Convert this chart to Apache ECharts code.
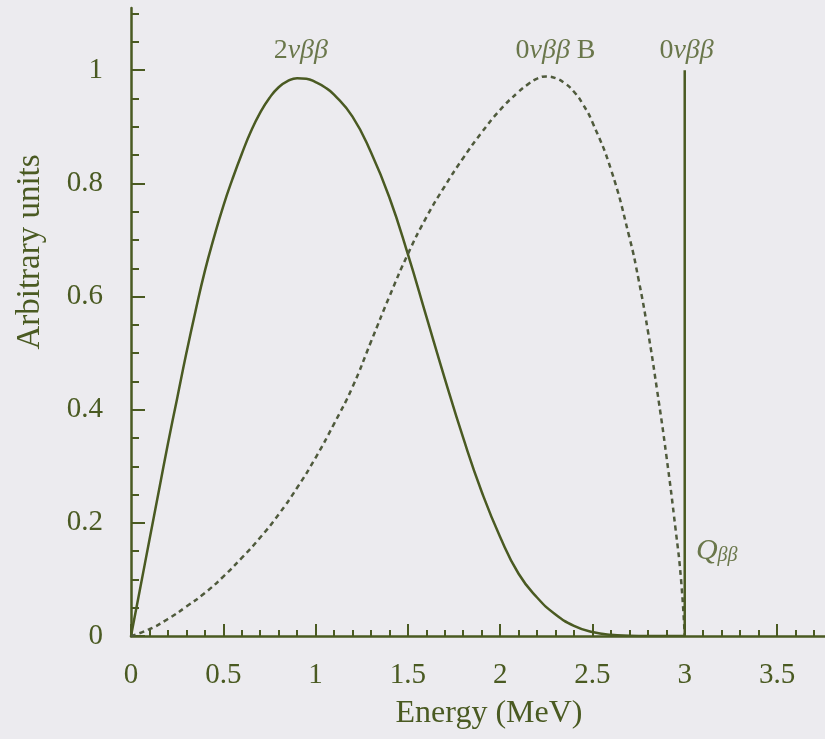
<!DOCTYPE html>
<html lang="en">
<head>
    <meta charset="UTF-8">
    <title>Double beta decay spectra</title>
    <script src="https://cdn.jsdelivr.net/npm/echarts@6/dist/echarts.min.js"></script>
    <style>
        html, body { margin: 0; padding: 0; background: #ecebef; }
        #chart { width: 825px; height: 739px; }
    </style>
</head>
<body>
    <div id="chart"></div>
    <script>
        // 2 neutrino spectrum (solid)
        const energy2nu = [0, 0.05, 0.1, 0.15, 0.2, 0.25, 0.3, 0.35, 0.4, 0.45, 0.5, 0.55, 0.6, 0.65, 0.7, 0.75, 0.8, 0.85, 0.9, 0.95, 1.0, 1.05,
            1.1, 1.2, 1.3, 1.4, 1.5, 1.6, 1.7, 1.8, 1.9, 2.0, 2.1, 2.2, 2.3, 2.4, 2.5, 2.6, 2.7, 2.8, 2.9, 3.0];
        const rate2nu = [0, 0.085, 0.17, 0.255, 0.34, 0.42, 0.5, 0.575, 0.645, 0.705, 0.76, 0.808, 0.852, 0.892, 0.925, 0.951, 0.97, 0.981, 0.986, 0.985, 0.979, 0.97,
            0.957, 0.918, 0.855, 0.775, 0.675, 0.565, 0.455, 0.35, 0.255, 0.175, 0.11, 0.068, 0.038, 0.018, 0.007, 0.002, 0.0005, 0, 0, 0];

        // 0 neutrino + Majoron spectrum (dashed)
        const energy0nuB = [0, 0.1, 0.2, 0.3, 0.4, 0.5, 0.6, 0.7, 0.8, 0.9, 1.0, 1.1, 1.2, 1.3, 1.4, 1.5, 1.6, 1.7,
            1.8, 1.9, 2.0, 2.1, 2.15, 2.2, 2.25, 2.3, 2.35, 2.4, 2.45, 2.5, 2.6, 2.7, 2.75, 2.8, 2.85, 2.9, 2.95, 2.98, 3.0];
        const rate0nuB = [0, 0.012, 0.03, 0.052, 0.076, 0.105, 0.138, 0.174, 0.215, 0.262, 0.315, 0.375, 0.44, 0.52, 0.6, 0.675, 0.74, 0.795,
            0.845, 0.89, 0.93, 0.962, 0.975, 0.985, 0.989, 0.986, 0.977, 0.962, 0.939, 0.908, 0.825, 0.705, 0.63, 0.54, 0.435, 0.32, 0.19, 0.1, 0];

        // 0 neutrino line at Q value
        const qValue = 3.0;
        const lineTop = 1.0;

        // axis ticks / labels
        const xLabels = [0, 0.5, 1, 1.5, 2, 2.5, 3, 3.5];
        const yLabels = [0, 0.2, 0.4, 0.6, 0.8, 1];
        const xMinor = [];
        for (let i = 1; i <= 37; i++) xMinor.push(+(i * 0.1).toFixed(2));
        const yMinor = [];
        for (let i = 1; i <= 22; i++) yMinor.push(+(i * 0.05).toFixed(2));

        // annotation texts and where they sit (data coords)
        const annoText = ['{n|2}{i|νββ}', '{n|0}{i|νββ}{n| B}', '{n|0}{i|νββ}', '{q|Q}{s|ββ}'];
        const annoPos = [[0.92, 1.035], [2.3, 1.035], [3.01, 1.035], [3.05, 0.15]];

        const ink = '#4a5a22';
        const font = 'Liberation Serif';

        let myChart = echarts.init(document.getElementById('chart'));

        let rich = {
            n: { fontFamily: font, fontSize: 28, color: ink },
            i: { fontFamily: font, fontSize: 28, fontStyle: 'italic', color: ink },
            q: { fontFamily: font, fontSize: 30, fontStyle: 'italic', color: ink },
            s: { fontFamily: font, fontSize: 20, fontStyle: 'italic', color: ink, verticalAlign: 'bottom', padding: [10, 0, 0, 0] }
        };

        function axisX(show) {
            return {
                type: 'value', min: 0, max: 3.76, position: 'bottom', gridIndex: 0,
                splitLine: { show: false },
                axisLine: { show: show, onZero: false, lineStyle: { color: ink, width: 2.5 } },
                axisTick: show
                    ? { inside: true, length: 12, customValues: xLabels, lineStyle: { color: ink, width: 2 } }
                    : { inside: true, length: 6, customValues: xMinor, lineStyle: { color: ink, width: 2 } },
                axisLabel: show
                    ? { customValues: xLabels, margin: 25, color: ink, fontFamily: font, fontSize: 29 }
                    : { show: false }
            };
        }

        function axisY(show) {
            return {
                type: 'value', min: 0, max: 1.11, position: 'left', gridIndex: 0,
                splitLine: { show: false },
                axisLine: { show: show, onZero: false, lineStyle: { color: ink, width: 2.5 } },
                axisTick: show
                    ? { inside: true, length: 14, customValues: yLabels, lineStyle: { color: ink, width: 2 } }
                    : { inside: true, length: 8, customValues: yMinor, lineStyle: { color: ink, width: 2 } },
                axisLabel: show
                    ? { customValues: yLabels, margin: 28, color: ink, fontFamily: font, fontSize: 29 }
                    : { show: false }
            };
        }

        let option = {
            backgroundColor: '#ecebef',
            animation: false,
            grid: { left: 131, right: 0, top: 8, bottom: 103 },
            xAxis: [axisX(true), axisX(false)],
            yAxis: [axisY(true), axisY(false)],
            graphic: [
                {
                    type: 'text',
                    x: 30, y: 252,
                    rotation: Math.PI / 2,
                    style: {
                        text: 'Arbitrary units',
                        fill: ink,
                        font: '33px "Liberation Serif"',
                        textAlign: 'center',
                        textVerticalAlign: 'middle'
                    }
                },
                {
                    type: 'text',
                    x: 489, y: 714,
                    style: {
                        text: 'Energy (MeV)',
                        fill: ink,
                        font: '32px "Liberation Serif"',
                        textAlign: 'center',
                        textVerticalAlign: 'middle'
                    }
                }
            ],
            series: [
                {
                    name: '2νββ',
                    type: 'line',
                    showSymbol: false,
                    smooth: 0.5,
                    data: energy2nu.map((e, i) => [e, rate2nu[i]]),
                    lineStyle: { color: ink, width: 2.5 },
                    z: 3
                },
                {
                    name: '0νββB',
                    type: 'line',
                    showSymbol: false,
                    smooth: 0.5,
                    data: energy0nuB.map((e, i) => [e, rate0nuB[i]]),
                    lineStyle: { color: '#4f5a3c', width: 2.5, type: [5, 4] },
                    z: 3
                },
                {
                    name: '0νββ',
                    type: 'line',
                    showSymbol: false,
                    data: [[qValue, 0], [qValue, lineTop]],
                    lineStyle: { color: ink, width: 2.5 },
                    z: 3
                },
                {
                    name: 'labels',
                    type: 'scatter',
                    symbolSize: 0,
                    silent: true,
                    data: annoPos.map((p, i) => ({
                        value: p,
                        label: {
                            show: true,
                            position: i === 3 ? 'right' : 'inside',
                            distance: 2,
                            formatter: annoText[i],
                            rich: rich
                        }
                    }))
                }
            ]
        };

        myChart.setOption(option);
    </script>
</body>
</html>
